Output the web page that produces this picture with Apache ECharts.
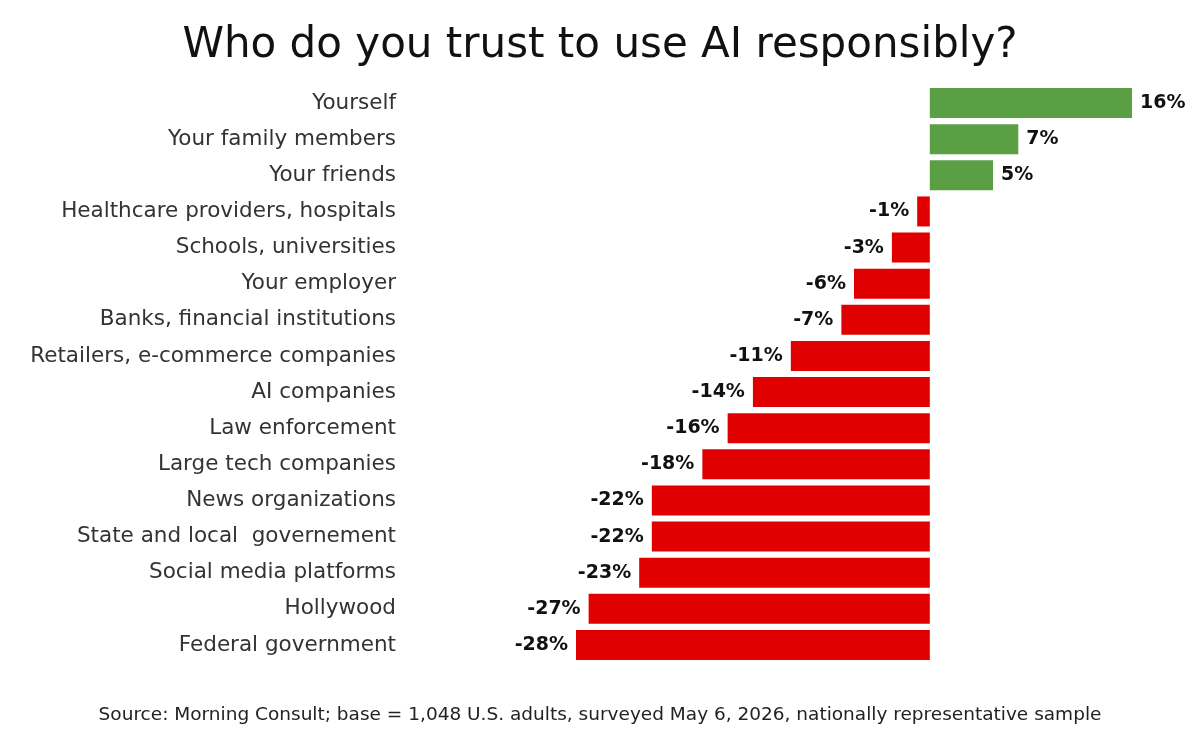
<!DOCTYPE html>
<html lang="en">
<head>
<meta charset="UTF-8" />
<title>Who do you trust to use AI responsibly?</title>
<script src="https://cdn.jsdelivr.net/npm/echarts@6/dist/echarts.min.js"></script>
<style>body{margin:0;background:#fff}</style>
</head>
<body>
<div id="main" style="width:1200px;height:750px"></div>
<script>
// net trust, top to bottom
var categories = ["Yourself", "Your family members", "Your friends", "Healthcare providers, hospitals",
    "Schools, universities", "Your employer", "Banks, financial institutions", "Retailers, e-commerce companies",
    "AI companies", "Law enforcement", "Large tech companies", "News organizations",
    "State and local  governement", "Social media platforms", "Hollywood", "Federal government"];
var values = [16, 7, 5, -1, -3, -6, -7, -11, -14, -16, -18, -22, -22, -23, -27, -28];

var chart = echarts.init(document.getElementById('main'));
chart.setOption({
    animation: false,
    textStyle: { fontFamily: "DejaVu Sans" },
    title: [
        { text: "Who do you trust to use AI responsibly?", left: "center", top: 20,
          textStyle: { fontSize: 42, fontWeight: "normal", color: "#111", fontFamily: "DejaVu Sans" } },
        { text: "Source: Morning Consult; base = 1,048 U.S. adults, surveyed May 6, 2026, nationally representative sample",
          left: "center", top: 701, textStyle: { fontSize: 18.5, fontWeight: "normal", color: "#222" } }
    ],
    grid: { left: 576, right: 68, top: 85, bottom: 87 },
    xAxis: { type: "value", min: -28, max: 16, show: false },
    yAxis: {
        type: "category", data: categories, inverse: true,
        axisLine: { show: false }, axisTick: { show: false },
        axisLabel: { margin: 180, fontSize: 21.5, color: "#333" }
    },
    series: [{
        type: "bar", barCategoryGap: "17%",
        data: values.map(function (v) {
            return {
                value: v,
                itemStyle: { color: v >= 0 ? "#5b9f45" : "#e00000" },
                label: { position: v >= 0 ? "right" : "left" }
            };
        }),
        label: { show: true, fontSize: 19, fontWeight: "bold", color: "#111", distance: 8,
                 formatter: function (p) { return p.value + "%"; } }
    }]
});
</script>
</body>
</html>
